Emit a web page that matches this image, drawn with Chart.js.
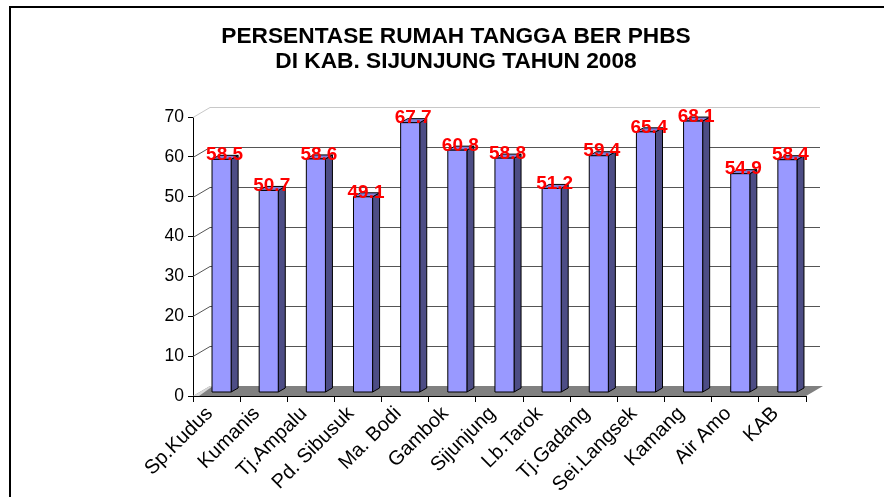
<!DOCTYPE html>
<html>
<head>
<meta charset="utf-8">
<script src="https://cdn.jsdelivr.net/npm/chart.js@4"></script>
<style>
html,body{margin:0;padding:0;background:#fff;}
canvas{display:block;}
</style>
</head>
<body>
<canvas id="c" width="884" height="497"></canvas>
<script>
const titleLines = ['PERSENTASE RUMAH TANGGA BER PHBS', 'DI KAB. SIJUNJUNG TAHUN 2008'];
const categories = ['Sp.Kudus','Kumanis','Tj.Ampalu','Pd. Sibusuk','Ma. Bodi','Gambok','Sijunjung','Lb.Tarok','Tj.Gadang','Sei.Langsek','Kamang','Air Amo','KAB'];
const values = [58.5, 50.7, 58.6, 49.1, 67.7, 60.8, 58.8, 51.2, 59.4, 65.4, 68.1, 54.9, 58.4];
const yTickValues = [0, 10, 20, 30, 40, 50, 60, 70];

const FONT = "'Liberation Sans', Arial, sans-serif";
const WALL_DX = 17, WALL_DY = -10;      // back wall offset
const BAR_DX = 5, BAR_DY = -3.5;        // bar front face offset
const DEPTH_DX = 7, DEPTH_DY = -4;      // bar depth

const framePlugin = {
  id: 'frame',
  beforeDraw(chart) {
    const ctx = chart.ctx;
    ctx.save();
    ctx.fillStyle = '#fff';
    ctx.fillRect(0, 0, chart.width, chart.height);
    ctx.strokeStyle = '#000';
    ctx.lineWidth = 2;
    ctx.strokeRect(10, 7, chart.width + 20, chart.height + 20);
    ctx.restore();
  },
  afterDraw(chart) {
    const ctx = chart.ctx;
    ctx.save();
    ctx.fillStyle = '#000';
    ctx.font = 'bold 22.7px ' + FONT;
    ctx.textAlign = 'center';
    ctx.textBaseline = 'middle';
    titleLines.forEach((t, i) => ctx.fillText(t, 456, 37 + i * 25));
    ctx.restore();
  }
};

const wallPlugin = {
  id: 'wall3d',
  beforeDatasetsDraw(chart) {
    const ctx = chart.ctx;
    const ys = chart.scales.y, xs = chart.scales.x;
    const a = chart.chartArea;
    ctx.save();
    yTickValues.forEach((v, i) => {
      if (v === 0) return;
      const py = Math.round(ys.getPixelForValue(v)) + 0.5;
      const top = i === yTickValues.length - 1;
      ctx.strokeStyle = top ? '#c8c8c8' : '#555';
      ctx.lineWidth = 1;
      ctx.beginPath();
      ctx.moveTo(a.left, py);
      ctx.lineTo(a.left + WALL_DX, py + WALL_DY);
      ctx.lineTo(xs.right + WALL_DX - 3, py + WALL_DY);
      ctx.stroke();
    });
    const by = ys.getPixelForValue(0);
    ctx.fillStyle = '#808080';
    ctx.beginPath();
    ctx.moveTo(a.left, by);
    ctx.lineTo(a.left + WALL_DX, by + WALL_DY);
    ctx.lineTo(xs.right + WALL_DX, by + WALL_DY);
    ctx.lineTo(xs.right, by);
    ctx.closePath();
    ctx.fill();
    ctx.fillStyle = '#d8d8d8';
    ctx.beginPath();
    ctx.moveTo(a.left, by);
    ctx.lineTo(a.left + WALL_DX, by + WALL_DY);
    ctx.lineTo(a.left + WALL_DX + 3, by + WALL_DY);
    ctx.lineTo(a.left + 6, by);
    ctx.closePath();
    ctx.fill();
    ctx.strokeStyle = '#000';
    ctx.lineWidth = 1;
    ctx.beginPath();
    ctx.moveTo(a.left, Math.round(by) + 0.5);
    ctx.lineTo(xs.right, Math.round(by) + 0.5);
    ctx.stroke();
    ctx.restore();
  }
};

const barsPlugin = {
  id: 'bars3d',
  afterDatasetsDraw(chart) {
    const ctx = chart.ctx;
    const meta = chart.getDatasetMeta(0);
    ctx.save();
    ctx.lineWidth = 1;
    ctx.strokeStyle = '#000';
    ctx.lineJoin = 'round';
    meta.data.forEach((el) => {
      const w = el.width;
      const l = el.x - w / 2 + BAR_DX;
      const r = l + w;
      const t = el.y + BAR_DY;
      const b = el.base + BAR_DY;
      ctx.fillStyle = '#4d4d85';
      ctx.beginPath();
      ctx.moveTo(r, b); ctx.lineTo(r + DEPTH_DX, b + DEPTH_DY);
      ctx.lineTo(r + DEPTH_DX, t + DEPTH_DY); ctx.lineTo(r, t); ctx.closePath();
      ctx.fill(); ctx.stroke();
      ctx.fillStyle = '#8080d8';
      ctx.beginPath();
      ctx.moveTo(l, t); ctx.lineTo(l + DEPTH_DX, t + DEPTH_DY);
      ctx.lineTo(r + DEPTH_DX, t + DEPTH_DY); ctx.lineTo(r, t); ctx.closePath();
      ctx.fill(); ctx.stroke();
      ctx.fillStyle = '#9999ff';
      ctx.fillRect(l, t, w, b - t);
      ctx.strokeRect(l, t, w, b - t);
    });
    ctx.fillStyle = '#ff0000';
    ctx.font = 'bold 19px ' + FONT;
    ctx.textAlign = 'center';
    ctx.textBaseline = 'middle';
    meta.data.forEach((el, i) => {
      ctx.fillText(String(values[i]), el.x + BAR_DX + DEPTH_DX / 2 - 0.5, el.y + BAR_DY + DEPTH_DY - 0.5);
    });
    ctx.restore();
  }
};

new Chart(document.getElementById('c'), {
  type: 'bar',
  data: {
    labels: categories,
    datasets: [{
      data: values,
      backgroundColor: 'rgba(0,0,0,0)',
      borderWidth: 0,
      categoryPercentage: 1,
      barPercentage: 0.405
    }]
  },
  options: {
    responsive: false,
    devicePixelRatio: 1,
    animation: false,
    layout: { padding: { left: 0, right: 78, top: 117, bottom: 0 } },
    plugins: {
      legend: { display: false },
      title: { display: false },
      tooltip: { enabled: false }
    },
    scales: {
      x: {
        grid: { display: true, drawOnChartArea: false, tickLength: 6, color: '#000', offset: true },
        border: { display: true, color: '#000' },
        ticks: {
          color: '#000',
          font: { family: FONT, size: 20 },
          maxRotation: 45, minRotation: 45,
          autoSkip: false,
          padding: 0,
          labelOffset: -7
        },
        afterFit(scale) { scale.height = 101; }
      },
      y: {
        min: 0, max: 70,
        afterBuildTicks(scale) { scale.ticks = yTickValues.map(v => ({ value: v })); },
        grid: { display: true, drawOnChartArea: false, tickLength: 5, color: '#000' },
        border: { display: true, color: '#000' },
        ticks: {
          color: '#000',
          font: { family: FONT, size: 17.5 },
          padding: 4
        },
        afterFit(scale) { scale.width = 193; }
      }
    }
  },
  plugins: [framePlugin, wallPlugin, barsPlugin]
});
</script>
</body>
</html>
